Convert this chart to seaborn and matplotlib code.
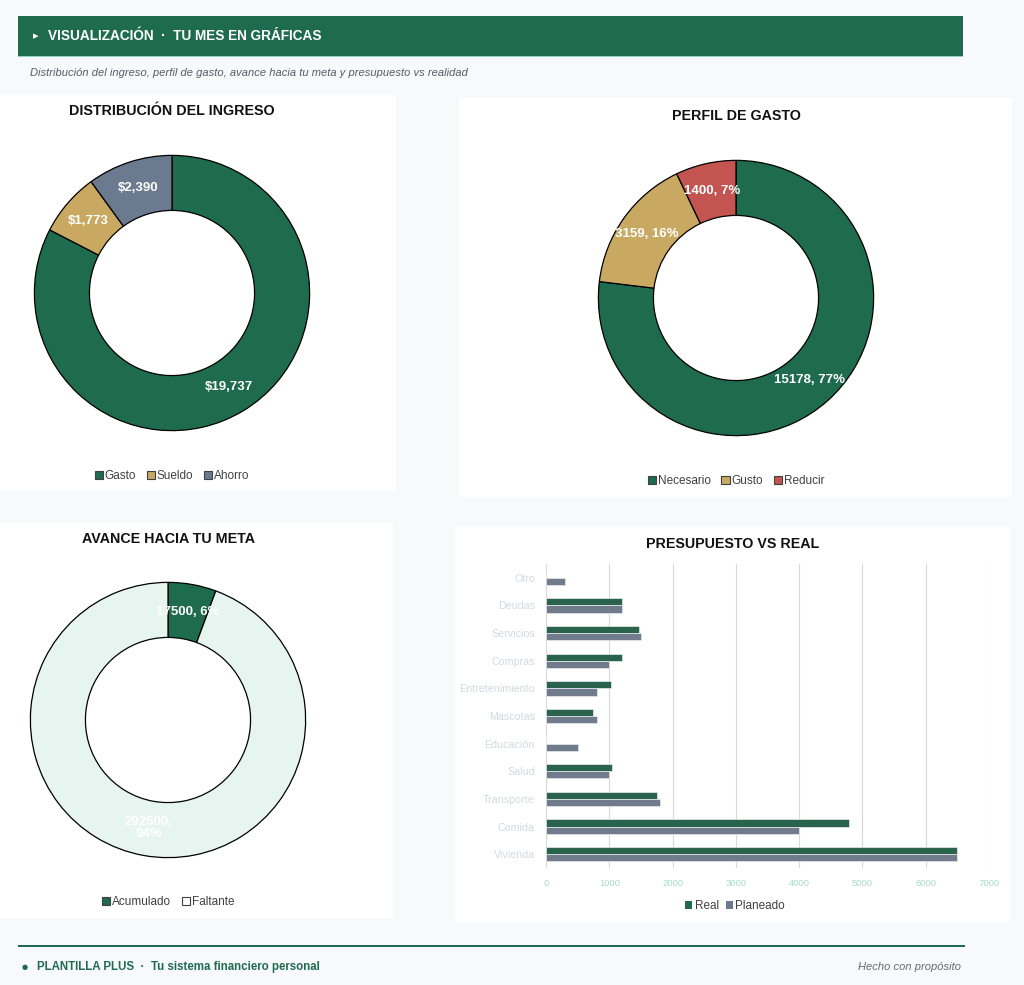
import numpy as np
import pandas as pd
import matplotlib.pyplot as plt
import seaborn as sns
from matplotlib.patches import Rectangle, Patch

# === DATA ===
ingreso_labels = ['Gasto', 'Sueldo', 'Ahorro']
ingreso_values = [19737, 1773, 2390]

perfil_labels = ['Necesario', 'Gusto', 'Reducir']
perfil_values = [15178, 3159, 1400]

meta_labels = ['Acumulado', 'Faltante']
meta_values = [17500, 292500]

categorias = ['Otro', 'Deudas', 'Servicios', 'Compras', 'Entretenimiento', 'Mascotas',
              'Educación', 'Salud', 'Transporte', 'Comida', 'Vivienda']
real = [0, 1200, 1470, 1200, 1020, 750, 0, 1045, 1750, 4780, 6500]
planeado = [300, 1200, 1500, 1000, 800, 800, 500, 1000, 1800, 4000, 6500]

# === STYLE ===
GREEN = '#1f6b4f'
TAN = '#c9a862'
SLATE = '#6b7a8f'
RED = '#c4544f'
MINT = '#e6f5ef'
BG = '#f7f9fb'
TXT = '#404040'

sns.set_theme(style='white')
plt.rcParams['font.family'] = ['Liberation Sans', 'DejaVu Sans']

W, H = 1024, 985
fig = plt.figure(figsize=(W / 100, H / 100), dpi=100, facecolor=BG)


def box(x0, y0, x1, y1):
    # pixel box (top-left origin) -> figure rect
    return [x0 / W, 1 - y1 / H, (x1 - x0) / W, (y1 - y0) / H]


def fx(x):
    return x / W


def fy(y):
    return 1 - y / H


def panel(x0, y0, x1, y1, color='white'):
    fig.patches.append(Rectangle((fx(x0), fy(y1)), (x1 - x0) / W, (y1 - y0) / H,
                                 transform=fig.transFigure, facecolor=color,
                                 edgecolor='none', zorder=-5))


# === HEADER ===
panel(18, 16, 963, 56, GREEN)
fig.patches.append(Rectangle((fx(18), fy(57)), 945 / W, 1.2 / H, transform=fig.transFigure,
                             facecolor='#8fd3b8', edgecolor='none', zorder=-5))
fig.text(fx(33), fy(36), '▸', color='white', fontsize=8, va='center', ha='left',
         family=['DejaVu Sans'])
fig.text(fx(48), fy(36), 'VISUALIZACIÓN  ·  TU MES EN GRÁFICAS', color='white',
         fontsize=9.8, fontweight='bold', va='center', ha='left')
fig.text(fx(30), fy(73), 'Distribución del ingreso, perfil de gasto, avance hacia tu meta y presupuesto vs realidad',
         color='#555c66', fontsize=8, style='italic', va='center', ha='left')

# === PANELS ===
panel(0, 95, 396, 491)
panel(459, 98, 1012, 497)
panel(0, 523, 393, 918)
panel(455, 527, 1010, 922)


def donut(cx, cy, r, values, colors, labels_txt, title, title_y, legend_labels, legend_y,
          legend_colors=None):
    ax = fig.add_axes(box(cx - r, cy - r, cx + r, cy + r))
    ax.set_facecolor('none')
    wedges, _ = ax.pie(values, colors=colors, startangle=90, counterclock=False, radius=1,
                       wedgeprops=dict(width=0.4, edgecolor='black', linewidth=0.9))
    for w, t in zip(wedges, labels_txt):
        ang = np.deg2rad((w.theta1 + w.theta2) / 2)
        ax.text(0.8 * np.cos(ang), 0.8 * np.sin(ang), t, color='white', fontsize=9.5,
                fontweight='bold', ha='center', va='center', linespacing=1.0)
    ax.set_xlim(-1.01, 1.01)
    ax.set_ylim(-1.01, 1.01)
    ax.axis('off')
    fig.text(fx(cx), fy(title_y), title, fontsize=10.3, fontweight='bold', color='#111111',
             ha='center', va='center')
    lc = legend_colors if legend_colors else colors
    handles = [Patch(facecolor=c, edgecolor=TXT, linewidth=0.8, label=l)
               for c, l in zip(lc, legend_labels)]
    fig.legend(handles=handles, loc='center', bbox_to_anchor=(fx(cx), fy(legend_y)), ncol=len(handles),
               frameon=False, fontsize=8.5, labelcolor=TXT, handlelength=0.7, handleheight=0.7,
               handletextpad=0.15, columnspacing=0.9)
    return ax


# === DISTRIBUCIÓN DEL INGRESO ===
lab1 = ['${:,}'.format(v) for v in ingreso_values]
donut(172, 293, 139, ingreso_values, [GREEN, TAN, SLATE], lab1, 'DISTRIBUCIÓN DEL INGRESO', 111,
      ingreso_labels, 476)

# === PERFIL DE GASTO ===
tot2 = sum(perfil_values)
lab2 = ['{}, {:.0f}%'.format(v, 100 * v / tot2) for v in perfil_values]
donut(736, 298, 139, perfil_values, [GREEN, TAN, RED], lab2, 'PERFIL DE GASTO', 116,
      perfil_labels, 481)

# === AVANCE HACIA TU META ===
tot3 = sum(meta_values)
lab3 = ['{}, {:.0f}%'.format(v, 100 * v / tot3) for v in meta_values]
lab3[1] = lab3[1].replace(', ', ',\n')
donut(168, 720, 139, meta_values, [GREEN, MINT], lab3, 'AVANCE HACIA TU META', 539,
      meta_labels, 902, legend_colors=[GREEN, 'white'])

# === PRESUPUESTO VS REAL ===
df = pd.DataFrame({'Categoria': categorias, 'Real': real, 'Planeado': planeado})
df_long = df.melt(id_vars='Categoria', var_name='Tipo', value_name='Monto')

ax4 = fig.add_axes(box(546, 564, 989, 868))
ax4.set_facecolor('none')
sns.barplot(data=df_long, y='Categoria', x='Monto', hue='Tipo', order=categorias,
            hue_order=['Real', 'Planeado'], palette=[GREEN, SLATE], orient='h', width=0.52,
            edgecolor='#e8ecef', linewidth=0.5, ax=ax4, legend=False)
ax4.set_xlim(0, 7000)
ax4.set_xticks(range(0, 7001, 1000))
ax4.xaxis.grid(True, color='#d9d9d9', linewidth=0.8)
ax4.set_axisbelow(True)
for s in ax4.spines.values():
    s.set_visible(False)
ax4.set_xlabel('')
ax4.set_ylabel('')
ax4.tick_params(axis='x', labelsize=6.8, labelcolor='#a5dccb', length=0, pad=8)
ax4.tick_params(axis='y', labelsize=7.7, labelcolor='#d3d8e2', length=0, pad=8)
fig.text(fx(733), fy(544), 'PRESUPUESTO VS REAL', fontsize=10.3, fontweight='bold', color='#111111',
         ha='center', va='center')
h4 = [Patch(facecolor=GREEN, edgecolor='none', label='Real'),
      Patch(facecolor=SLATE, edgecolor='none', label='Planeado')]
fig.legend(handles=h4, loc='center', bbox_to_anchor=(fx(735), fy(906)), ncol=2, frameon=False,
           fontsize=8.5, labelcolor=TXT, handlelength=0.6, handleheight=0.6,
           handletextpad=0.2, columnspacing=0.6)

# === FOOTER ===
fig.patches.append(Rectangle((fx(18), fy(947)), 947 / W, 2 / H, transform=fig.transFigure,
                             facecolor=GREEN, edgecolor='none', zorder=-5))
fig.text(fx(22), fy(967), '●', color=GREEN, fontsize=5, va='center', ha='left',
         family=['DejaVu Sans'])
fig.text(fx(37), fy(967), 'PLANTILLA PLUS  ·  Tu sistema financiero personal', color=GREEN,
         fontsize=8.3, fontweight='bold', va='center', ha='left')
fig.text(fx(961), fy(967), 'Hecho con propósito', color='#666c75', fontsize=8,
         style='italic', va='center', ha='right')

fig.savefig('out.png', dpi=100, facecolor=BG)
